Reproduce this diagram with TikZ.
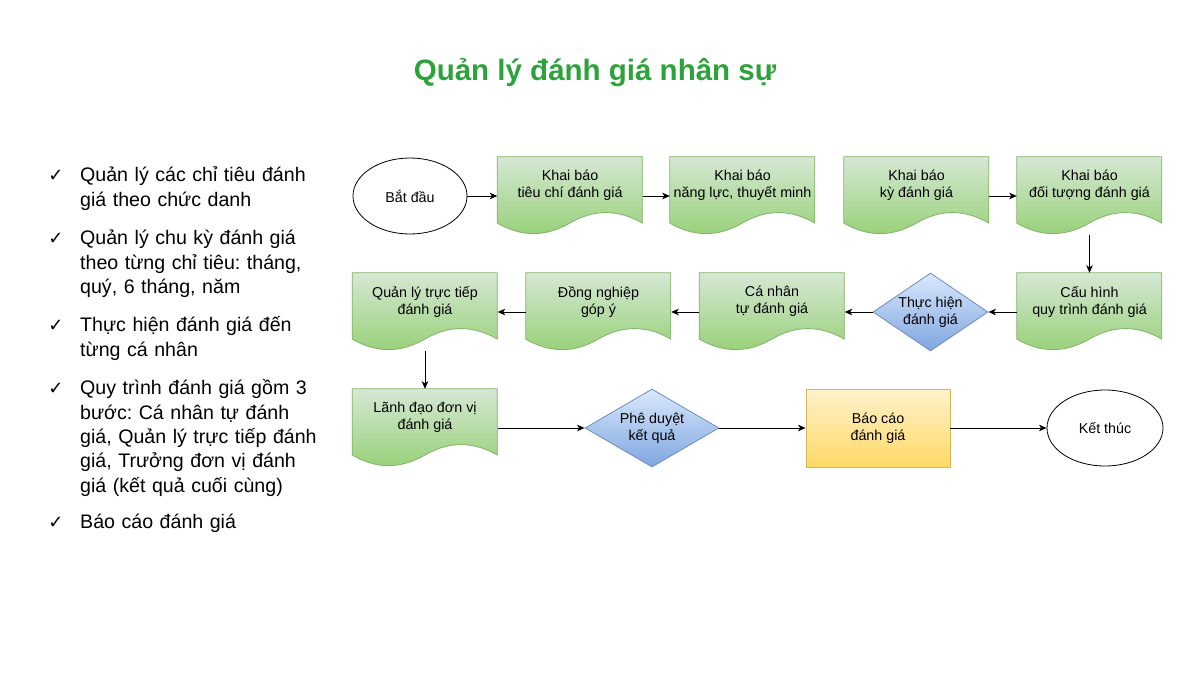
\documentclass[tikz,border=0pt]{standalone}
\usepackage{fontspec}
\setmainfont{Liberation Sans}
\newfontfamily\symfont{DejaVu Sans}
\frenchspacing
\usetikzlibrary{shapes.geometric,arrows.meta,backgrounds}
\definecolor{titlegreen}{RGB}{44,163,58}
\definecolor{docborder}{HTML}{82B366}
\definecolor{doctop}{HTML}{D5E8D4}
\definecolor{docbot}{HTML}{97D077}
\definecolor{diaborder}{HTML}{6C8EBF}
\definecolor{diatop}{HTML}{DAE8FC}
\definecolor{diabot}{HTML}{7EA6E0}
\definecolor{yelborder}{HTML}{D6B656}
\definecolor{yeltop}{HTML}{FFF2CC}
\definecolor{yelbot}{HTML}{FFD966}
\tikzset{
  doc/.style={rectangle, minimum width=145pt, minimum height=78pt, inner sep=0pt},
  docshade/.style={draw=docborder, line width=0.8pt, top color=doctop, bottom color=docbot},
  txt/.style={align=center, inner sep=0pt, font=\fontsize{14.3}{17}\selectfont},
  term/.style={ellipse, draw=black, line width=0.8pt, fill=white, inner sep=0pt, font=\fontsize{14.3}{17}\selectfont},
  decision/.style={diamond, draw=diaborder, line width=0.8pt, top color=diatop, bottom color=diabot, inner sep=0pt, align=center, font=\fontsize{14.3}{17}\selectfont},
  report/.style={rectangle, draw=yelborder, line width=0.8pt, top color=yeltop, bottom color=yelbot, minimum width=144pt, minimum height=78pt, inner sep=0pt, align=center, font=\fontsize{14.3}{17}\selectfont},
  flow/.style={draw=black, line width=0.9pt, -{Stealth[length=7.5pt,width=6.5pt,inset=2pt]}},
  chk/.style={anchor=base, inner sep=0pt, font=\symfont\fontsize{18}{18}\selectfont},
  bullet/.style={anchor=base west, inner sep=0pt, align=left, text width=260pt, font=\fontsize{19.6}{24.4}\selectfont},
}
\newcommand\drawdoc[1]{%
  \shade[docshade, shift={(#1.north west)}] (0,0) -- (145,0) -- (145,66.3)
    .. controls (120.83,52.26) and (96.67,52.26) .. (72.5,66.3)
    .. controls (48.33,80.34) and (24.17,80.34) .. (0,66.3) -- cycle;}
\begin{document}
\begin{tikzpicture}[x=1pt, y=-1pt]
\useasboundingbox (0,0) rectangle (1200,675);

% title
\node[anchor=base, inner sep=0pt, text=titlegreen, font=\bfseries\fontsize{29.5}{33}\selectfont] (title) at (595,80) {Quản lý đánh giá nhân sự};

% bullets
\node[chk] (c1) at (56,181.5) {✓};
\node[bullet] (b1) at (80,181.7) {Quản lý các chỉ tiêu đánh\\giá theo chức danh};
\node[chk] (c2) at (56,244.5) {✓};
\node[bullet] (b2) at (80,244.7) {Quản lý chu kỳ đánh giá\\theo từng chỉ tiêu: tháng,\\quý, 6 tháng, năm};
\node[chk] (c3) at (56,331.5) {✓};
\node[bullet] (b3) at (80,331.7) {Thực hiện đánh giá đến\\từng cá nhân};
\node[chk] (c4) at (56,394.5) {✓};
\node[bullet] (b4) at (80,394.7) {Quy trình đánh giá gồm 3\\bước: Cá nhân tự đánh\\giá, Quản lý trực tiếp đánh\\giá, Trưởng đơn vị đánh\\giá (kết quả cuối cùng)};
\node[chk] (c5) at (56,528.5) {✓};
\node[bullet] (b5) at (80,528.7) {Báo cáo đánh giá};

% row 1
\node[term, minimum width=114pt, minimum height=76pt] (start) at (410,196) {Bắt đầu};
\node[doc] (d1) at (570,196) {};
\node[doc] (d2) at (742.5,196) {};
\node[doc] (d3) at (916.5,196) {};
\node[doc] (d4) at (1089.5,196) {};
% row 2
\node[doc] (cfg) at (1089.5,312) {};
\node[decision, aspect=1.47, minimum width=115pt, minimum height=78pt] (th) at (930.5,312) {Thực hiện\\đánh giá};
\node[doc] (cn) at (772,312) {};
\node[doc] (dn) at (598.5,312) {};
\node[doc] (ql) at (425,312) {};
% row 3
\node[doc] (ld) at (425,428) {};
\node[decision, aspect=1.72, minimum width=134pt, minimum height=78pt] (pd) at (652,428) {Phê duyệt\\kết quả};
\node[report] (bc) at (878,428) {Báo cáo\\đánh giá};
\node[term, minimum width=116pt, minimum height=76pt] (end) at (1105,428) {Kết thúc};

% document texts
\node[txt] (d1t) at ([yshift=10.5pt]d1.center) {Khai báo\\tiêu chí đánh giá};
\node[txt] (d2t) at ([yshift=10.5pt]d2.center) {Khai báo\\năng lực, thuyết minh};
\node[txt] (d3t) at ([yshift=10.5pt]d3.center) {Khai báo\\kỳ đánh giá};
\node[txt] (d4t) at ([yshift=10.5pt]d4.center) {Khai báo\\đối tượng đánh giá};
\node[txt] (cfgt) at ([yshift=10.5pt]cfg.center) {Cấu hình\\quy trình đánh giá};
\node[txt] (cnt) at ([yshift=10.5pt]cn.center) {Cá nhân\\tự đánh giá};
\node[txt] (dnt) at ([yshift=10.5pt]dn.center) {Đồng nghiệp\\góp ý};
\node[txt] (qlt) at ([yshift=10.5pt]ql.center) {Quản lý trực tiếp\\đánh giá};
\node[txt] (ldt) at ([yshift=10.5pt]ld.center) {Lãnh đạo đơn vị\\đánh giá};

% document shapes
\begin{scope}[on background layer]
\drawdoc{d1}\drawdoc{d2}\drawdoc{d3}\drawdoc{d4}
\drawdoc{cfg}\drawdoc{cn}\drawdoc{dn}\drawdoc{ql}\drawdoc{ld}
\end{scope}

% connectors
\draw[flow] (start) -- (d1);
\draw[flow] (d1) -- (d2);
\draw[flow] (d3) -- (d4);
\draw[flow] (d4.south) -- (cfg.north);
\draw[flow] (cfg.west) -- (th.east);
\draw[flow] (th.west) -- (cn.east);
\draw[flow] (cn.west) -- (dn.east);
\draw[flow] (dn.west) -- (ql.east);
\draw[flow] (ql.south) -- (ld.north);
\draw[flow] (ld.east) -- (pd.west);
\draw[flow] (pd.east) -- (bc.west);
\draw[flow] (bc.east) -- (end.west);
\end{tikzpicture}
\end{document}
